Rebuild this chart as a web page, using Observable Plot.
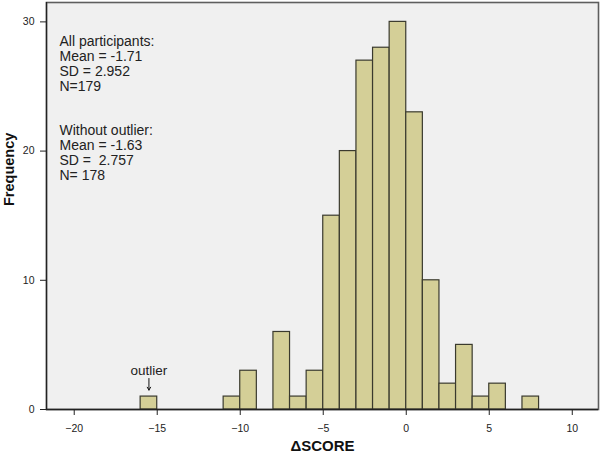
<!DOCTYPE html>
<html>
<head>
<meta charset="utf-8">
<script src="https://cdn.jsdelivr.net/npm/d3@7"></script>
<script src="https://cdn.jsdelivr.net/npm/@observablehq/plot@0.6"></script>
<style>
  html, body { margin: 0; padding: 0; background: #fff; }
  svg text { white-space: pre; }
</style>
</head>
<body>
<div id="chart"></div>
<script>
// Histogram bins (lower edge, width 1) and frequencies
const binStart = [-16, -11, -10, -8, -7, -6, -5, -4, -3, -2, -1, 0, 1, 2, 3, 4, 5, 7];
const counts   = [  1,   1,   3,  6,  1,  3, 15, 20, 27, 28, 30, 23, 10, 2, 5, 1, 2, 1];
const binWidth = 1;

const xTicks = [-20, -15, -10, -5, 0, 5, 10];
const yTicks = [0, 10, 20, 30];

const statsAll = ["All participants:", "Mean = -1.71", "SD = 2.952", "N=179"];
const statsWithout = ["Without outlier:", "Mean = -1.63", "SD =  2.757", "N= 178"];
const outlier = [{x: -15.5, y: 1, label: "outlier"}];

const bins = binStart.map((s, i) => ({x1: s, x2: s + binWidth, y: counts[i]}));

const font = "'Liberation Sans', Arial, sans-serif";

const chart = Plot.plot({
  width: 600,
  height: 457,
  marginLeft: 46,
  marginRight: 2,
  marginTop: 2,
  marginBottom: 48,
  style: {fontFamily: font, background: "#fff", color: "#000"},
  x: {domain: [-21.67, 11.58], ticks: xTicks, label: null},
  y: {domain: [0, 31.5], ticks: yTicks, label: null},
  marks: [
    Plot.frame({fill: "#f0f0f0", stroke: "#5e5e5e", strokeWidth: 1.6}),
    Plot.rectY(bins, {x1: "x1", x2: "x2", y: "y", fill: "#d4cf97", stroke: "#3a3a2e", strokeWidth: 1.2, inset: 0}),
    Plot.ruleY([0], {stroke: "#222", strokeWidth: 1.3}),
    Plot.axisX({ticks: xTicks, tickSize: 6, tickPadding: 9, fontSize: 10.5, label: null, stroke: "#222", fill: "#222"}),
    Plot.axisY({ticks: yTicks, tickSize: 6, tickPadding: 6, fontSize: 10.5, label: null, stroke: "#222", fill: "#222"}),
    Plot.ruleX([-21.67], {stroke: "#222", strokeWidth: 1.3}),
    Plot.text([statsAll.join("\n")], {frameAnchor: "top-left", dx: 13, dy: 33, lineAnchor: "top", textAnchor: "start", fontSize: 14, lineHeight: 1.06, fill: "#222"}),
    Plot.text([statsWithout.join("\n")], {frameAnchor: "top-left", dx: 13, dy: 122, lineAnchor: "top", textAnchor: "start", fontSize: 14, lineHeight: 1.06, fill: "#222"}),
    Plot.text(outlier, {x: "x", y: "y", text: "label", dy: -26, fontSize: 13.5, fill: "#222"}),
    Plot.arrow(outlier, {x1: "x", x2: "x", y1: d => d.y + 1.4, y2: d => d.y + 0.5, stroke: "#111", strokeWidth: 1, headLength: 5}),
    Plot.text(["ΔSCORE"], {frameAnchor: "bottom", dy: 41, fontSize: 15, fontWeight: "bold", fill: "#111"}),
    Plot.text(["Frequency"], {frameAnchor: "left", dx: -37, rotate: -90, fontSize: 14.5, fontWeight: "bold", fill: "#111"})
  ]
});
document.getElementById("chart").append(chart);
</script>
</body>
</html>
